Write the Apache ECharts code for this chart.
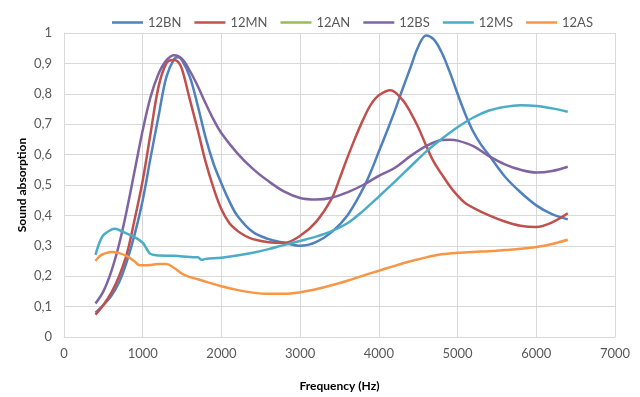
<!DOCTYPE html>
<html>
<head>
<meta charset="utf-8">
<script src="https://cdn.jsdelivr.net/npm/echarts@6/dist/echarts.min.js"></script>
<style>html,body{margin:0;padding:0;background:#fff}#c{width:640px;height:397px}</style>
</head>
<body>
<div id="c"></div>
<script>
var seriesNames = ['12BN','12MN','12AN','12BS','12MS','12AS'];
var colors = ['#4F81BD','#C0504D','#9BBB59','#8064A2','#4BACC6','#F79646'];
var xTicks = [0,1000,2000,3000,4000,5000,6000,7000];
var yTicks = [0,0.1,0.2,0.3,0.4,0.5,0.6,0.7,0.8,0.9,1];

var bnFreq = [400,500,600,700,800,900,1000,1100,1200,1300,1400,1450,1500,1600,1700,1800,1900,2000,2100,2200,2400,2600,2800,3000,3200,3400,3600,3800,3900,4000,4100,4200,4300,4400,4500,4600,4700,4800,4900,5000,5100,5200,5300,5400,5600,5800,6000,6200,6400];
var bnVal  = [0.08,0.105,0.135,0.18,0.25,0.34,0.45,0.59,0.725,0.855,0.915,0.92,0.91,0.855,0.76,0.655,0.57,0.505,0.447,0.40,0.345,0.322,0.31,0.30,0.312,0.345,0.40,0.488,0.545,0.61,0.675,0.742,0.815,0.885,0.955,0.992,0.978,0.935,0.872,0.80,0.732,0.675,0.632,0.598,0.528,0.476,0.433,0.404,0.387];

var mnFreq = [400,500,600,700,800,900,1000,1100,1200,1300,1385,1450,1500,1600,1700,1800,1900,2000,2100,2200,2300,2400,2600,2800,3000,3200,3400,3500,3600,3700,3800,3900,4000,4150,4300,4400,4500,4600,4700,4800,4900,5000,5100,5200,5400,5600,5800,6000,6200,6400];
var mnVal  = [0.073,0.105,0.145,0.20,0.275,0.39,0.515,0.67,0.822,0.90,0.911,0.905,0.88,0.78,0.68,0.575,0.49,0.42,0.375,0.35,0.333,0.322,0.312,0.31,0.333,0.378,0.455,0.52,0.59,0.655,0.715,0.765,0.795,0.812,0.78,0.74,0.69,0.63,0.575,0.535,0.497,0.465,0.44,0.425,0.40,0.38,0.366,0.362,0.377,0.407];

var anFreq = [];
var anVal  = [];

var bsFreq = [400,500,600,700,800,900,1000,1100,1200,1300,1400,1500,1600,1700,1800,1900,2000,2200,2400,2600,2800,3000,3200,3400,3600,3800,4000,4200,4400,4600,4800,4900,5000,5200,5400,5600,5800,6000,6200,6400];
var bsVal  = [0.11,0.15,0.215,0.305,0.42,0.55,0.68,0.79,0.865,0.91,0.927,0.915,0.875,0.825,0.768,0.715,0.67,0.605,0.553,0.512,0.478,0.457,0.452,0.458,0.476,0.50,0.53,0.556,0.595,0.628,0.648,0.649,0.646,0.628,0.595,0.568,0.55,0.541,0.546,0.56];

var msFreq = [400,450,500,600,650,700,800,900,1000,1050,1100,1200,1400,1600,1700,1750,1800,2000,2200,2400,2600,2800,3000,3200,3400,3600,3800,4000,4200,4400,4600,4800,5000,5200,5400,5600,5800,6000,6200,6400];
var msVal  = [0.27,0.31,0.335,0.353,0.356,0.352,0.34,0.328,0.31,0.29,0.273,0.268,0.267,0.263,0.262,0.254,0.257,0.261,0.268,0.277,0.289,0.303,0.316,0.33,0.348,0.374,0.415,0.462,0.51,0.56,0.61,0.652,0.69,0.722,0.745,0.757,0.762,0.76,0.752,0.741];

var asFreq = [400,450,500,600,700,800,900,950,1000,1100,1200,1300,1400,1500,1600,1700,1800,2000,2200,2400,2600,2800,3000,3200,3400,3600,3800,4000,4200,4400,4600,4800,5000,5200,5400,5600,5800,6000,6200,6400];
var asVal  = [0.25,0.265,0.273,0.28,0.276,0.266,0.248,0.237,0.236,0.237,0.24,0.24,0.227,0.208,0.197,0.19,0.182,0.167,0.155,0.146,0.142,0.142,0.147,0.157,0.17,0.185,0.202,0.218,0.234,0.249,0.262,0.272,0.277,0.28,0.282,0.286,0.29,0.296,0.306,0.32];

var freqs = [bnFreq, mnFreq, anFreq, bsFreq, msFreq, asFreq];
var vals = [bnVal, mnVal, anVal, bsVal, msVal, asVal];

function pairs(f, v){ var out=[]; for(var i=0;i<f.length;i++) out.push([f[i], v[i]]); return out; }

var font = 'Lato, "Open Sans", sans-serif';
var chart = echarts.init(document.getElementById('c'), null, {renderer:'canvas'});
chart.setOption({
  animation: false,
  color: colors,
  textStyle: {fontFamily: font},
  legend: {
    top: 11, left: 107,
    icon: 'rect',
    itemWidth: 31, itemHeight: 2.5, itemGap: 13,
    textStyle: {color:'#595959', fontSize: 13, fontFamily: font},
    data: seriesNames
  },
  grid: {left: 64, right: 25, top: 33, bottom: 56},
  xAxis: {
    type: 'value', min: 0, max: 7000, interval: 1000,
    name: 'Frequency (Hz)', nameLocation: 'middle', nameGap: 43, nameMoveOverlap: false,
    nameTextStyle: {fontWeight: 'bold', color: '#000', fontSize: 12, fontFamily: font},
    axisLine: {show: true, lineStyle: {color: '#d9d9d9'}},
    axisTick: {show: false},
    axisLabel: {color: '#595959', fontSize: 13, margin: 10, fontFamily: font,
      formatter: function(v){ return String(v); }},
    splitLine: {show: true, lineStyle: {color: '#d9d9d9', width: 1}}
  },
  yAxis: {
    type: 'value', min: 0, max: 1, interval: 0.1,
    name: 'Sound absorption', nameLocation: 'middle', nameGap: 36, nameMoveOverlap: false,
    nameTextStyle: {fontWeight: 'bold', color: '#000', fontSize: 12, fontFamily: font},
    axisLine: {show: true, lineStyle: {color: '#d9d9d9'}},
    axisTick: {show: false},
    axisLabel: {color: '#595959', fontSize: 13, margin: 12, fontFamily: font,
      formatter: function(v){ return String(Math.round(v*10)/10).replace('.', ','); }},
    splitLine: {show: true, lineStyle: {color: '#d9d9d9', width: 1}}
  },
  series: seriesNames.map(function(n, i){
    return {
      name: n, type: 'line', data: pairs(freqs[i], vals[i]),
      smooth: 0.35, symbol: 'none', showSymbol: false,
      lineStyle: {width: 2.5, color: colors[i]},
      itemStyle: {color: colors[i]}
    };
  })
});
</script>
</body>
</html>
